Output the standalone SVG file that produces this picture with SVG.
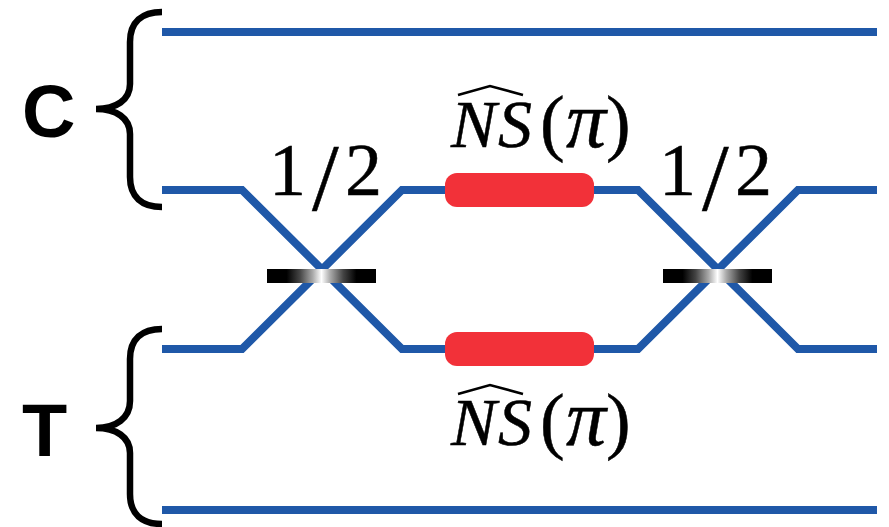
<svg xmlns="http://www.w3.org/2000/svg" width="889" height="527" viewBox="0 0 889 527">
<style>
.w{fill:none;stroke:#1F58A8;stroke-width:8;stroke-linejoin:miter}
.b{fill:none;stroke:#000;stroke-width:6.5}
.h{fill:none;stroke:#000;stroke-width:2.6}
.r{fill:#F23139}
.bs{fill:url(#g)}
.l{font:bold 74px "Liberation Sans",Arial,sans-serif;fill:#000}
.m{font:74px "Liberation Serif","Times New Roman",serif;fill:#000;stroke:#000;stroke-width:.5}
.s{font-size:96px}
.n{font-size:68px;font-style:italic}
.p{font-size:80px;font-style:italic}
</style>
<defs>
<linearGradient id="g"><stop offset="0.18" stop-color="#000"/><stop offset="0.3" stop-color="#444"/><stop offset="0.42" stop-color="#aaa"/><stop offset="0.5" stop-color="#fff"/><stop offset="0.58" stop-color="#aaa"/><stop offset="0.7" stop-color="#444"/><stop offset="0.82" stop-color="#000"/></linearGradient>
</defs>
<rect width="889" height="527" fill="#fff"/>
<g id="connectors">
<path class="w" d="M162 32H877"/>
<path class="w" d="M162 510H877"/>
<path class="w" d="M162 190H242L402 349H638L798 190H877"/>
<path class="w" d="M162 349H242L402 190H638L798 349H877"/>
</g>
<g id="label-c"><text class="l" x="22" y="137">C</text>
<path class="b" d="M162 12C142 12 130 22 130 42V84C130 100 116 109 96 109C116 109 130 118 130 134V177C130 197 142 207 162 207"/></g>
<g id="label-t"><text class="l" x="22" y="456">T</text>
<path class="b" d="M162 329C142 329 130 339 130 359V401C130 418 116 428 96 428C116 428 130 437 130 453V494C130 514 142 524 162 524"/></g>
<g id="bs1"><rect class="bs" x="267" y="269" width="109" height="14"/><text class="m" y="195"><tspan x="269">1</tspan><tspan class="s" x="312" y="210">/</tspan><tspan x="345" y="195">2</tspan></text></g>
<g id="bs2"><rect class="bs" x="663" y="269" width="109" height="14"/><text class="m" y="195"><tspan x="659">1</tspan><tspan class="s" x="702" y="210">/</tspan><tspan x="735" y="195">2</tspan></text></g>
<g id="ns1"><rect class="r" x="445" y="173" width="149" height="34" rx="12"/>
<text class="m" y="147"><tspan class="n" x="451">N</tspan><tspan class="n" x="498">S</tspan><tspan x="540">(</tspan><tspan class="p" x="566">π</tspan><tspan x="606">)</tspan></text>
<path class="h" d="M458 95L490 86L523 95"/></g>
<g id="ns2"><rect class="r" x="445" y="332" width="149" height="34" rx="12"/>
<text class="m" y="445"><tspan class="n" x="451">N</tspan><tspan class="n" x="498">S</tspan><tspan x="540">(</tspan><tspan class="p" x="566">π</tspan><tspan x="606">)</tspan></text>
<path class="h" d="M458 394L490 385L523 394"/></g>
</svg>
